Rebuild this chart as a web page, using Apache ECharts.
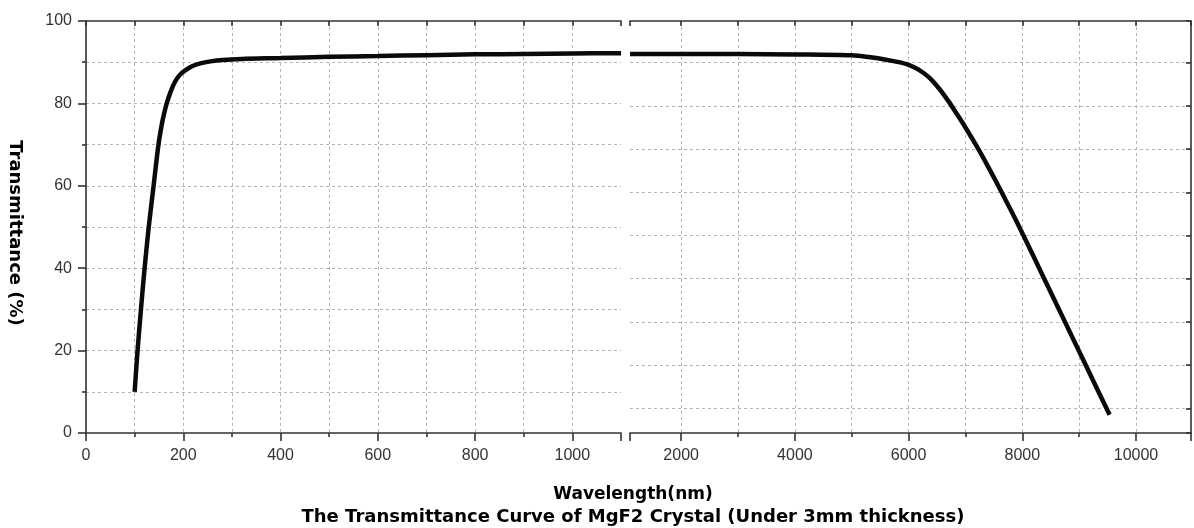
<!DOCTYPE html>
<html><head><meta charset="utf-8">
<script src="https://cdn.jsdelivr.net/npm/echarts@6/dist/echarts.min.js"></script>
<style>html,body{margin:0;padding:0;background:#fff}#c{width:1194px;height:528px}</style>
</head><body><div id="c"></div>
<script>
// UV / visible region (left panel)
const uvWavelength = [100,106,113,120.5,129,139,149,156,160.5,166,173,182,192,204,218,235,256,280,320,400,500,600,700,800,900,1000,1100];
const uvTransmittance = [10,20,30,40,50,60,70,75,77.5,80,82.5,85,86.8,88,89,89.7,90.2,90.55,90.8,91.0,91.3,91.5,91.7,91.9,92.0,92.1,92.2];
// IR region (right panel)
const irWavelength = [1100,2000,3000,4000,5000,5300,5600,5800,6000,6175,6350,6525,6700,6850,7000,7200,7400,7550,7700,7860,8020,8385,8750,9115,9480,9535];
const irTransmittance = [92.0,92.0,92.0,91.9,91.7,91.3,90.7,90.2,89.5,88.4,86.7,84.2,81.1,78.1,75.0,70.6,65.9,62.2,58.4,54.3,50,40,30,20,10,8.5];
const leftXTicks = [0,200,400,600,800,1000];
const rightXTicks = [2000,4000,6000,8000,10000];
const yTicks = [0,20,40,60,80,100];

const labelFont = {fontFamily:'"Liberation Sans",Arial,sans-serif', fontSize:16, color:'#333'};
const axisLineStyle = {color:'#333', width:1.6};
const gridLine = {show:true, lineStyle:{color:'#b5b5b5', width:1, type:[3,3]}};

const chart = echarts.init(document.getElementById('c'), null, {renderer:'canvas'});
chart.setOption({
  animation:false,
  backgroundColor:'#fff',
  grid:[
    {left:86, top:21, width:535, bottom:95},
    {left:630, top:21, width:563, bottom:95}
  ],
  xAxis:[
    {gridIndex:0, type:'value', min:0, max:1100, interval:200, position:'bottom',
     axisLine:{show:true, onZero:false, lineStyle:axisLineStyle},
     axisTick:{show:true, length:8, lineStyle:axisLineStyle},
     minorTick:{show:true, splitNumber:2, length:4, lineStyle:axisLineStyle},
     minorSplitLine:gridLine,
     splitLine:Object.assign({showMinLine:false, showMaxLine:false}, gridLine),
     axisLabel:Object.assign({margin:15, formatter:v=>leftXTicks.includes(v)?String(v):''}, labelFont)},
    {gridIndex:0, type:'value', min:0, max:1100, interval:100, position:'top',
     axisLine:{show:true, onZero:false, lineStyle:axisLineStyle},
     axisTick:{show:true, inside:true, length:5, lineStyle:axisLineStyle},
     axisLabel:{show:false}, splitLine:{show:false}},
    {gridIndex:1, type:'value', min:1100, max:10967, splitNumber:5, position:'bottom',
     axisLine:{show:true, onZero:false, lineStyle:axisLineStyle},
     axisTick:{show:true, length:8, lineStyle:axisLineStyle},
     minorTick:{show:true, splitNumber:2, length:4, lineStyle:axisLineStyle},
     minorSplitLine:gridLine,
     splitLine:Object.assign({showMinLine:false, showMaxLine:false}, gridLine),
     axisLabel:Object.assign({margin:15, formatter:v=>rightXTicks.includes(v)?String(v):''}, labelFont)},
    {gridIndex:1, type:'value', min:1100, max:10967, splitNumber:10, position:'top',
     axisLine:{show:true, onZero:false, lineStyle:axisLineStyle},
     axisTick:{show:true, inside:true, length:5, lineStyle:axisLineStyle},
     axisLabel:{show:false}, splitLine:{show:false}}
  ],
  yAxis:[
    {gridIndex:0, type:'value', min:0, max:100, interval:20, position:'left',
     name:'Transmittance (%)', nameLocation:'middle', nameRotate:-90, nameGap:62,
     nameTextStyle:{fontFamily:'"DejaVu Sans",sans-serif', fontWeight:'bold', fontSize:18, color:'#000', padding:[0,0,0,12]},
     axisLine:{show:true, onZero:false, lineStyle:axisLineStyle},
     axisTick:{show:true, length:8, lineStyle:axisLineStyle},
     minorTick:{show:true, splitNumber:2, length:4, lineStyle:axisLineStyle},
     minorSplitLine:gridLine,
     splitLine:Object.assign({showMinLine:false, showMaxLine:false}, gridLine),
     axisLabel:Object.assign({margin:14, formatter:v=>yTicks.includes(v)?String(v):''}, labelFont)},
    {gridIndex:1, type:'value', min:4.28, max:99.65, splitNumber:10, position:'right',
     axisLine:{show:true, onZero:false, lineStyle:axisLineStyle},
     axisTick:{show:true, inside:true, length:5, lineStyle:axisLineStyle},
     splitLine:Object.assign({showMinLine:false, showMaxLine:false}, gridLine),
     axisLabel:{show:false}}
  ],
  series:[
    {type:'line', xAxisIndex:0, yAxisIndex:0, showSymbol:false, smooth:0.3,
     lineStyle:{color:'#0a0a0a', width:4.5}, clip:true,
     data:uvWavelength.map((w,i)=>[w, uvTransmittance[i]])},
    {type:'line', xAxisIndex:2, yAxisIndex:1, showSymbol:false, smooth:0.3,
     lineStyle:{color:'#0a0a0a', width:4.5}, clip:true,
     data:irWavelength.map((w,i)=>[w, irTransmittance[i]])}
  ],
  graphic:[
    {type:'text', x:633, y:495, style:{text:'Wavelength(nm)', align:'center', verticalAlign:'middle',
      font:'bold 17px "DejaVu Sans", sans-serif', fill:'#000'}},
    {type:'text', x:633, y:517, style:{text:'The Transmittance Curve of MgF2 Crystal (Under 3mm thickness)', align:'center', verticalAlign:'middle',
      font:'bold 18px "DejaVu Sans", sans-serif', fill:'#000'}}
  ]
});
</script></body></html>
